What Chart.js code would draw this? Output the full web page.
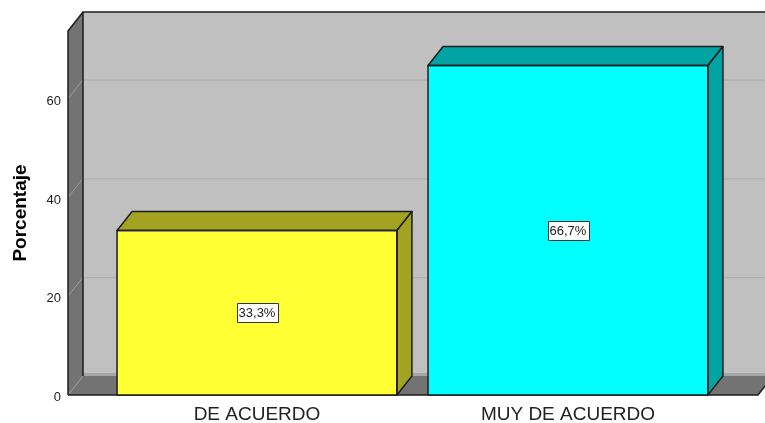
<!DOCTYPE html>
<html><head><meta charset="utf-8">
<style>html,body{margin:0;padding:0;background:#fff}canvas{display:block}</style>
<script src="https://cdn.jsdelivr.net/npm/chart.js@4"></script>
</head><body><canvas id="c" width="765" height="423"></canvas>
<script>
const categories = ["DE ACUERDO", "MUY DE ACUERDO"];
const percentages = [33.3, 66.7];
const valueLabels = ["33,3%", "66,7%"];
const barColors = ["#FFFF33", "#00FFFF"];
const barShadeColors = ["#A3A321", "#00A3A3"];
const yTicks = [0, 20, 40, 60];

const DX = 15, DY = -19, LINE = "#1c1c1c";
function poly(ctx, pts, fill, stroke, lw) {
  ctx.beginPath();
  pts.forEach((p, i) => i ? ctx.lineTo(p[0], p[1]) : ctx.moveTo(p[0], p[1]));
  ctx.closePath();
  if (fill) { ctx.fillStyle = fill; ctx.fill(); }
  if (stroke) { ctx.strokeStyle = stroke; ctx.lineWidth = lw || 1.5; ctx.lineJoin = "round"; ctx.stroke(); }
}
const box3d = {
  id: "box3d",
  beforeDatasetsDraw(chart) {
    const { ctx, chartArea: a, scales: { y } } = chart;
    ctx.save();
    poly(ctx, [[a.left + DX, a.top + DY], [a.right + DX, a.top + DY], [a.right + DX, a.bottom + DY], [a.left + DX, a.bottom + DY]], "#C0C0C0");
    poly(ctx, [[a.left, a.top], [a.left + DX, a.top + DY], [a.left + DX, a.bottom + DY], [a.left, a.bottom]], "#737373");
    ctx.fillStyle = "#A6A6A6";
    ctx.fillRect(a.left + DX, a.bottom + DY - 3, a.right - a.left, 3);
    poly(ctx, [[a.left, a.bottom], [a.left + DX, a.bottom + DY], [a.right + DX, a.bottom + DY], [a.right, a.bottom]], "#737373");
    yTicks.forEach(v => {
      const py = y.getPixelForValue(v);
      ctx.strokeStyle = "#AEAEAE"; ctx.lineWidth = 1;
      if (v > 0) {
        ctx.beginPath(); ctx.moveTo(a.left + DX, py + DY + .5); ctx.lineTo(a.right + DX, py + DY + .5); ctx.stroke();
      }
      ctx.strokeStyle = "#9A9A9A";
      ctx.beginPath(); ctx.moveTo(a.left, py); ctx.lineTo(a.left + DX, py + DY); ctx.stroke();
    });
    ctx.strokeStyle = LINE; ctx.lineWidth = 1.5;
    ctx.beginPath();
    ctx.moveTo(a.left + DX, a.bottom + DY); ctx.lineTo(a.left + DX, a.top + DY); ctx.lineTo(a.right + DX, a.top + DY);
    ctx.moveTo(a.left, a.bottom); ctx.lineTo(a.left, a.top); ctx.lineTo(a.left + DX, a.top + DY);
    ctx.moveTo(a.left, a.bottom); ctx.lineTo(a.right, a.bottom); ctx.lineTo(a.right + DX, a.bottom + DY);
    ctx.stroke();
    ctx.restore();
  },
  afterDatasetsDraw(chart) {
    const { ctx } = chart;
    const bars = chart.getDatasetMeta(0).data;
    ctx.save();
    bars.forEach((b, i) => {
      const half = b.width / 2, l = b.x - half, r = b.x + half, t = b.y, bot = b.base;
      poly(ctx, [[l, t], [l + DX, t + DY], [r + DX, t + DY], [r, t]], barShadeColors[i], LINE);
      poly(ctx, [[r, t], [r + DX, t + DY], [r + DX, bot + DY], [r, bot]], barShadeColors[i], LINE);
      poly(ctx, [[l, t], [r, t], [r, bot], [l, bot]], null, LINE);
      ctx.font = "13px 'Liberation Sans'";
      ctx.textAlign = "center"; ctx.textBaseline = "middle";
      const cy = (t + bot) / 2, w = ctx.measureText(valueLabels[i]).width + 4, h = 19;
      ctx.fillStyle = "#fff"; ctx.fillRect(Math.round(b.x - w / 2) + .5, Math.round(cy - h / 2) + .5, Math.round(w), h);
      ctx.strokeStyle = "#333"; ctx.lineWidth = 1; ctx.strokeRect(Math.round(b.x - w / 2) + .5, Math.round(cy - h / 2) + .5, Math.round(w), h);
      ctx.fillStyle = "#222"; ctx.fillText(valueLabels[i], b.x, cy + 1);
    });
    ctx.restore();
  }
};
new Chart(document.getElementById("c"), {
  type: "bar",
  data: {
    datasets: [{
      data: categories.map((c, i) => ({ x: i, y: percentages[i] })),
      backgroundColor: barColors,
      borderWidth: 0,
      categoryPercentage: 0.9,
      barPercentage: 1
    }]
  },
  plugins: [box3d],
  options: {
    responsive: false, animation: false,
    layout: { padding: { top: 31, right: 7, left: 0, bottom: 0 } },
    plugins: { legend: { display: false }, tooltip: { enabled: false } },
    scales: {
      x: {
        type: "linear", offset: false, min: -0.6077, max: 1.611,
        grid: { display: false, drawTicks: false }, border: { display: false },
        afterFit(s) { s.height = 28; },
        afterBuildTicks(s) { s.ticks = categories.map((c, i) => ({ value: i })); },
        ticks: {
          maxRotation: 0, autoSkip: false, padding: 8, color: "#222",
          font: { family: "'Liberation Sans'", size: 19 },
          callback: v => categories[v]
        }
      },
      y: {
        min: 0, max: 73.7,
        grid: { display: false, drawTicks: false }, border: { display: false },
        afterFit(s) { s.width = 68; },
        afterBuildTicks(s) { s.ticks = yTicks.map(v => ({ value: v })); },
        ticks: {
          padding: 7, color: "#222",
          font: { family: "'Liberation Sans'", size: 13, lineHeight: "5px" },
          callback: v => ["", String(v)]
        },
        title: {
          display: true, text: "Porcentaje", color: "#000", padding: { top: 9, bottom: 0 },
          font: { family: "'Liberation Sans'", size: 19, weight: "bold" }
        }
      }
    }
  }
});
</script></body></html>
